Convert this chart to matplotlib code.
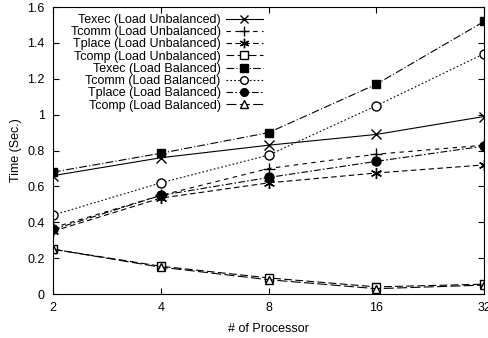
import matplotlib
matplotlib.use("Agg")
import matplotlib.pyplot as plt

plt.rcParams['font.family'] = ['Liberation Sans', 'DejaVu Sans']

procs = [2, 4, 8, 16, 32]
texec_ub = [0.66, 0.76, 0.83, 0.89, 0.99]
tcomm_ub = [0.37, 0.55, 0.70, 0.78, 0.83]
tplace_ub = [0.35, 0.535, 0.62, 0.675, 0.72]
tcomp_ub = [0.25, 0.155, 0.09, 0.04, 0.055]
texec_b = [0.68, 0.785, 0.90, 1.17, 1.52]
tcomm_b = [0.44, 0.62, 0.775, 1.05, 1.34]
tplace_b = [0.36, 0.55, 0.65, 0.74, 0.825]
tcomp_b = [0.25, 0.15, 0.08, 0.03, 0.05]

labels = ["Texec (Load Unbalanced)", "Tcomm (Load Unbalanced)",
          "Tplace (Load Unbalanced)", "Tcomp (Load Unbalanced)",
          "Texec (Load Balanced)", "Tcomm (Load Balanced)",
          "Tplace (Load Balanced)", "Tcomp (Load Balanced)"]
series = [texec_ub, tcomm_ub, tplace_ub, tcomp_ub, texec_b, tcomm_b, tplace_b, tcomp_b]
styles = [
    dict(ls='-', marker='x', mfc='black', ms=7),
    dict(ls=(0, (4, 4)), marker='+', mfc='black', ms=8),
    dict(ls=(0, (5, 3)), marker=(6, 2, 0), mfc='black', ms=8),
    dict(ls=(0, (7, 3)), marker='s', mfc='white', ms=6),
    dict(ls=(0, (7, 2, 1, 2)), marker='s', mfc='black', ms=6),
    dict(ls=(0, (1.5, 2)), marker='o', mfc='white', ms=6.5),
    dict(ls=(0, (6, 2, 1.5, 2)), marker='o', mfc='black', ms=6.5),
    dict(ls=(0, (9, 3)), marker='^', mfc='white', ms=6),
]

fig = plt.figure(figsize=(4.88, 3.38), dpi=100)
ax = fig.add_axes([0.1086, 0.130, 0.8834, 0.849])
for y, lab, st in zip(series, labels, styles):
    ax.plot(procs, y, color='black', lw=0.8, mec='black', mew=1.0, label=lab, **st)

ax.set_xscale('log', base=2)
ax.set_xlim(2, 32)
ax.set_ylim(0, 1.6)
ax.set_xticks(procs)
ax.set_xticklabels([str(p) for p in procs])
ax.minorticks_off()
ax.set_yticks([0, 0.2, 0.4, 0.6, 0.8, 1.0, 1.2, 1.4, 1.6])
ax.set_yticklabels(["0", "0.2", "0.4", "0.6", "0.8", "1", "1.2", "1.4", "1.6"])
ax.tick_params(direction='in', top=True, right=True, labelsize=9, length=4, pad=6)
ax.set_xlabel("# of Processor", fontsize=9, labelpad=6)
ax.set_ylabel("Time (Sec.)", fontsize=9, labelpad=4)
leg = ax.legend(loc='upper left', bbox_to_anchor=(0.025, 1.0), frameon=False,
                markerfirst=False, fontsize=9, handlelength=3.0, labelspacing=0.02,
                handletextpad=0.4, borderaxespad=0.15, markerscale=0.85)
for t in leg.get_texts():
    t.set_ha('right')
leg._legend_box.align = 'right'

fig.savefig("out.png", dpi=100)
